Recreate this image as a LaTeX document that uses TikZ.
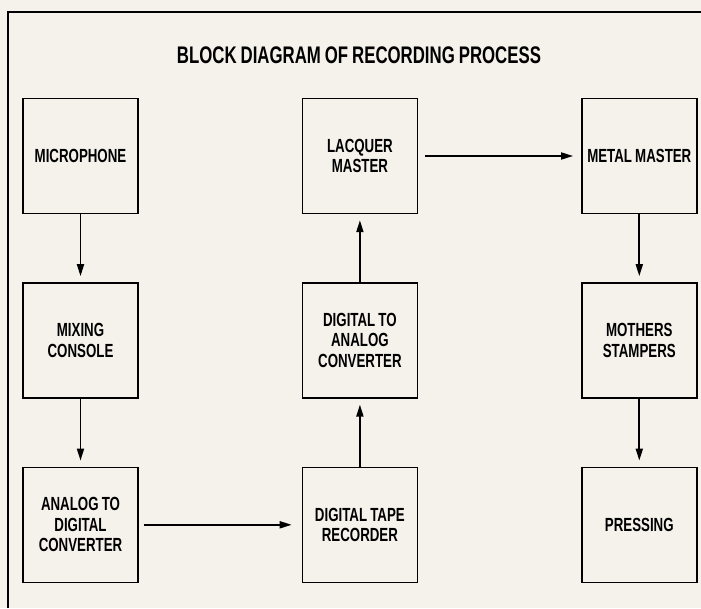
\documentclass[tikz,border=0pt]{standalone}
\usepackage{fontspec}
\setmainfont{Liberation Sans}[FakeStretch=0.7, WordSpace=0.85]
\usetikzlibrary{arrows.meta,positioning}
\definecolor{paper}{RGB}{244,242,235}

\begin{document}
\begin{tikzpicture}[x=1pt, y=-1pt, node distance = 68pt and 163pt,
                    main/.style = {draw, line width=1.4pt, minimum size=115pt, inner sep=2pt,
                                   align=center, font=\fontsize{19}{20.5}\selectfont\bfseries},
                    flow/.style = {line width=1.8pt, -{Triangle[length=12pt,width=7pt]}}]
\useasboundingbox (0,0) rectangle (701,608);
\fill[paper] (0,0) rectangle (701,608);
\draw[line width=1.2pt] (8,608) -- (8,12) -- (701,12);
\node[font=\fontsize{24}{28}\selectfont\bfseries] (title) at (359,55) {BLOCK DIAGRAM OF RECORDING PROCESS};
\node[main] (mic) at (80.5,156) {MICROPHONE};
\node[main, below= of mic] (mix) {MIXING\\CONSOLE};
\node[main, below= of mix] (adc) {ANALOG TO\\DIGITAL\\CONVERTER};
\node[main, right= of adc] (tape) {DIGITAL TAPE\\RECORDER};
\node[main, above= of tape] (dac) {DIGITAL TO\\ANALOG\\CONVERTER};
\node[main, above= of dac] (lacquer) {LACQUER\\MASTER};
\node[main, right= of lacquer] (metal) {METAL MASTER};
\node[main, below= of metal] (mothers) {MOTHERS\\STAMPERS};
\node[main, below= of mothers] (pressing) {PRESSING};
\path[flow, shorten >=6pt]
(mic) edge (mix)
(mix) edge (adc)
(tape) edge (dac)
(dac) edge (lacquer)
(metal) edge (mothers)
(mothers) edge (pressing);
\path[flow]
(adc) edge[shorten <=5pt, shorten >=10pt] (tape)
(lacquer) edge[shorten <=7pt, shorten >=8pt] (metal);
\end{tikzpicture}
\end{document}
